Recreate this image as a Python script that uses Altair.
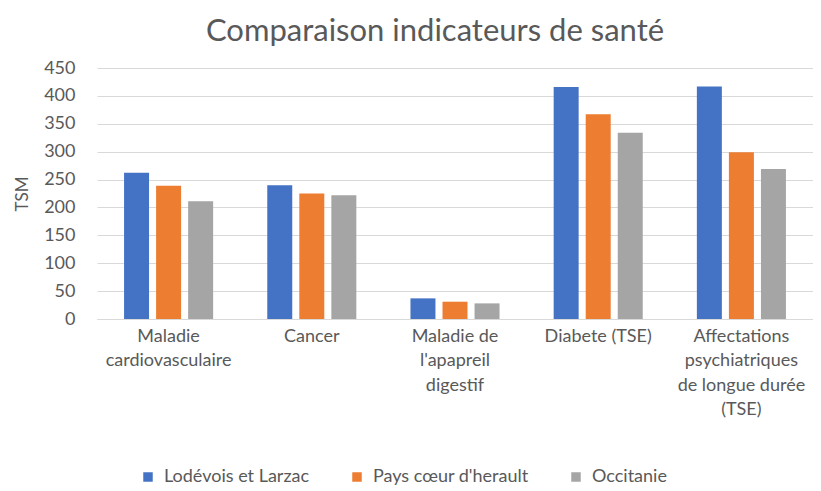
import altair as alt
import pandas as pd

categories = [
    "Maladie|cardiovasculaire",
    "Cancer",
    "Maladie de|l'apapreil|digestif",
    "Diabete (TSE)",
    "Affectations|psychiatriques|de longue durée|(TSE)",
]
series = ["Lodévois et Larzac", "Pays cœur d'herault", "Occitanie"]
lodevois = [262, 240, 37, 416, 417]
pays_coeur = [239, 225, 31, 367, 299]
occitanie = [211, 222, 28, 334, 269]
colors = ["#4472C4", "#ED7D31", "#A5A5A5"]

rows = []
for i, c in enumerate(categories):
    for s, vals in zip(series, [lodevois, pays_coeur, occitanie]):
        rows.append({"cat": c, "serie": s, "val": vals[i]})
df = pd.DataFrame(rows)

txt = "#595959"
font = "Lato"

chart = alt.Chart(df).mark_bar().encode(
    x=alt.X("cat:N", sort=categories, title=None,
            scale=alt.Scale(paddingInner=0.378, paddingOuter=0.189),
            axis=alt.Axis(labelExpr="split(datum.label, '|')", labelAngle=0,
                          labelFontSize=18, labelColor=txt, labelFont=font,
                          ticks=False, domainColor="#d9d9d9", labelPadding=8,
                          labelLineHeight=24.5, labelBaseline="top")),
    xOffset=alt.XOffset("serie:N", sort=series, scale=alt.Scale(paddingInner=0.22)),
    y=alt.Y("val:Q", title="TSM",
            scale=alt.Scale(domain=[0, 450]),
            axis=alt.Axis(values=list(range(0, 451, 50)), ticks=False, domain=False,
                          labelFontSize=18, labelColor=txt, labelFont=font,
                          titleFontSize=17, titleColor=txt, titleFont=font,
                          titleFontWeight="normal", labelPadding=22, titlePadding=12,
                          gridColor="#d9d9d9")),
    color=alt.Color("serie:N", sort=series, title=None,
                    scale=alt.Scale(domain=series, range=colors),
                    legend=alt.Legend(orient="none", direction="horizontal",
                                      legendX=42, legendY=400,
                                      symbolType="square", symbolSize=90,
                                      symbolStrokeWidth=0, labelOffset=7,
                                      labelLimit=0,
                                      labelFontSize=18, labelColor=txt, labelFont=font,
                                      columnPadding=38)),
).properties(
    width=716, height=251,
    padding={"left": 5, "top": 8, "right": 0, "bottom": 0},
    title=alt.TitleParams("Comparaison indicateurs de santé", fontSize=31,
                          font=font, fontWeight="normal", color=txt, offset=11,
                          dx=-20),
).configure_view(stroke=None)

chart.save("out.html", embed_options={"renderer": "svg", "actions": False})
